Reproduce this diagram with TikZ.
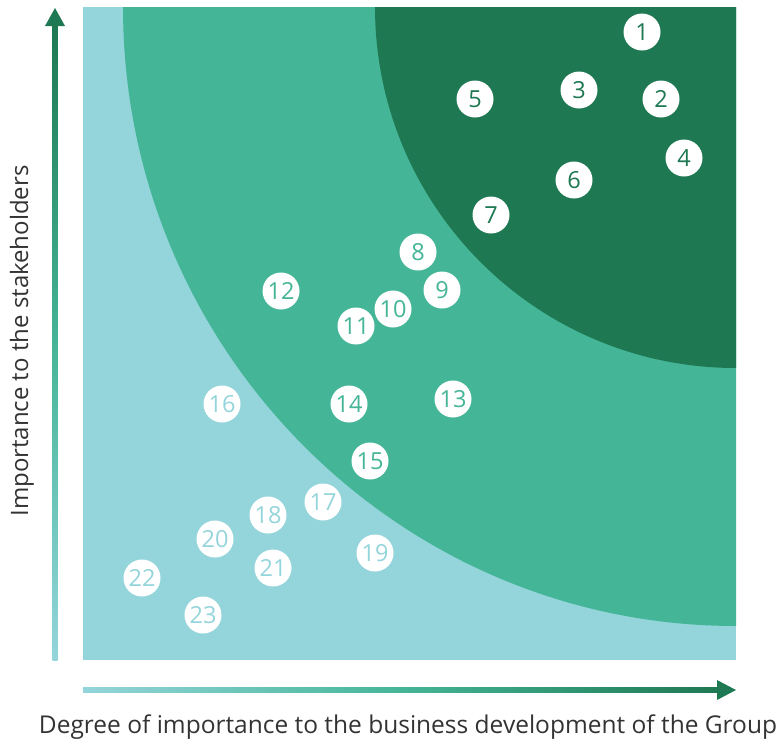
\documentclass[tikz,border=0pt]{standalone}
\usepackage{fontspec}
\setmainfont{Open Sans}
\definecolor{lb}{HTML}{94D5DB}
\definecolor{mg}{HTML}{45B597}
\definecolor{dg}{HTML}{1E7852}
\definecolor{tx}{HTML}{333333}
\begin{document}
\begin{tikzpicture}[x=1pt,y=-1pt,
  dot/.style={circle,fill=white,minimum size=37pt,inner sep=0pt,font=\fontsize{23.5}{23.5}\selectfont},
  dd/.style={dot,text=dg},
  dm/.style={dot,text=mg},
  dl/.style={dot,text=lb},
  axlabel/.style={text=tx,inner sep=0pt}]
\useasboundingbox (0,0) rectangle (780,745);
\fill[lb] (83,7) rectangle (736,660);
\begin{scope}
\clip (83,7) rectangle (736,660);
\fill[mg] (736,7) ellipse[x radius=613pt, y radius=619pt];
\fill[dg] (736,7) circle[radius=361pt];
\end{scope}
% axes
\shade[bottom color=lb, top color=dg, middle color=mg] (52.5,660) rectangle (57.5,24);
\fill[dg] (45,26) -- (55,8) -- (65,26) -- cycle;
\shade[left color=lb, right color=dg, middle color=mg] (83,687.5) rectangle (719,692.5);
\fill[dg] (717,680) -- (736,690) -- (717,700) -- cycle;
\node[axlabel,font=\fontsize{24.5}{28}\selectfont] (xl) at (408,727) {Degree of importance to the business development of the Group};
\node[axlabel,font=\fontsize{24}{28}\selectfont,rotate=90] (yl) at (22,341) {Importance to the stakeholders};
% points
\node[dd] (n1) at (642,32) {1};
\node[dd] (n2) at (661,99) {2};
\node[dd] (n3) at (579,90) {3};
\node[dd] (n4) at (684,158) {4};
\node[dd] (n5) at (475,99) {5};
\node[dd] (n6) at (574,180) {6};
\node[dd] (n7) at (491,215) {7};
\node[dm] (n8) at (418,252) {8};
\node[dm] (n9) at (442,290) {9};
\node[dm] (n10) at (393,309) {10};
\node[dm] (n11) at (356,326) {11};
\node[dm] (n12) at (281,291) {12};
\node[dm] (n13) at (453,399) {13};
\node[dm] (n14) at (349,404) {14};
\node[dm] (n15) at (370,461) {15};
\node[dl] (n16) at (222,404) {16};
\node[dl] (n17) at (323,502) {17};
\node[dl] (n18) at (268,515) {18};
\node[dl] (n19) at (375,553) {19};
\node[dl] (n20) at (215,539) {20};
\node[dl] (n21) at (273,568) {21};
\node[dl] (n22) at (142,578) {22};
\node[dl] (n23) at (203,615) {23};
\end{tikzpicture}
\end{document}
